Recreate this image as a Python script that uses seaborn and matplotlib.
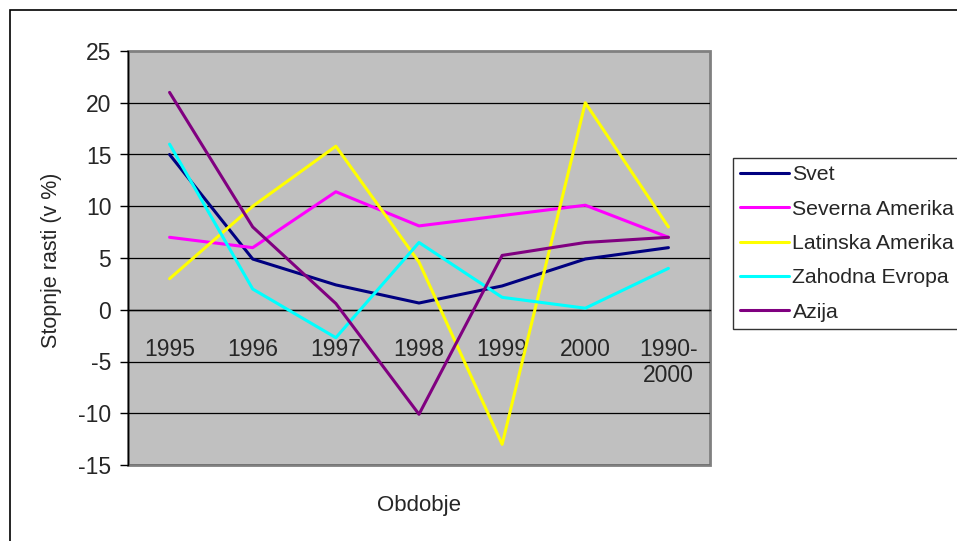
import numpy as np
import pandas as pd
import matplotlib
matplotlib.use('Agg')
import matplotlib.pyplot as plt
import seaborn as sns
from matplotlib.patches import Rectangle

# --- podatki ---
obdobja = ['1995', '1996', '1997', '1998', '1999', '2000', '1990-\n2000']
svet = [15.0, 4.9, 2.4, 0.65, 2.3, 4.9, 6.0]
severna_amerika = [7.0, 6.0, 11.4, 8.1, 9.1, 10.1, 7.0]
latinska_amerika = [3.0, 10.0, 15.8, 4.6, -13.0, 20.0, 8.0]
zahodna_evropa = [16.0, 2.0, -2.7, 6.5, 1.2, 0.15, 4.0]
azija = [21.0, 8.0, 0.6, -10.1, 5.25, 6.5, 7.0]

serije = ['Svet', 'Severna Amerika', 'Latinska Amerika', 'Zahodna Evropa', 'Azija']
barve = ['#000080', '#ff00ff', '#ffff00', '#00ffff', '#800080']

df = pd.DataFrame({'Obdobje': obdobja, 'Svet': svet, 'Severna Amerika': severna_amerika,
                   'Latinska Amerika': latinska_amerika, 'Zahodna Evropa': zahodna_evropa,
                   'Azija': azija})
df['x'] = np.arange(len(obdobja))
dolgi = df.melt(id_vars=['Obdobje', 'x'], value_vars=serije, var_name='Regija', value_name='Rast')

sns.set_style('white')
plt.rcParams['font.family'] = ['Liberation Sans', 'DejaVu Sans']
plt.rcParams['axes.unicode_minus'] = False

fig = plt.figure(figsize=(9.57, 5.41), dpi=100)
ax = fig.add_axes([128 / 957, 1 - 465 / 541, (710 - 128) / 957, (465 - 51) / 541])

sns.lineplot(data=dolgi, x='x', y='Rast', hue='Regija', hue_order=serije,
             palette=barve, linewidth=2.2, ax=ax, legend=False, zorder=3)

ax.set_facecolor('#c0c0c0')
ax.patch.set_edgecolor('#808080')
ax.patch.set_linewidth(2)

ax.set_xlim(-0.5, len(obdobja) - 0.5)
ax.set_ylim(-15, 25)
ax.set_yticks(np.arange(-15, 26, 5))
for v in np.arange(-15, 21, 5):
    ax.axhline(v, color='black', linewidth=0.9, zorder=1)

for s in ['top', 'right']:
    ax.spines[s].set_visible(False)
ax.spines['left'].set_color('black')
ax.spines['left'].set_linewidth(1)
ax.spines['bottom'].set_position(('data', 0))
ax.spines['bottom'].set_color('black')
ax.spines['bottom'].set_linewidth(1)

ax.set_xticks(df['x'])
ax.set_xticklabels(obdobja, fontsize=16.5)
ax.set_xticks(np.arange(-0.5, len(obdobja), 1), minor=True)
ax.tick_params(axis='x', which='major', length=0, pad=20)
ax.tick_params(axis='x', which='minor', length=6, width=1, color='black', direction='out')
ax.tick_params(axis='y', length=6, width=1, color='black', direction='out', labelsize=16.5, pad=6, left=True)

ax.set_xlabel('')
ax.set_ylabel('')
fig.text(52 / 957, 1 - 260 / 541, 'Stopnje rasti (v %)', fontsize=15.5, rotation=90,
         ha='center', va='center')
fig.text(419 / 957, 1 - 505 / 541, 'Obdobje', fontsize=16, ha='center', va='center')

# legenda
rocice = [plt.Line2D([0], [0], color=c, linewidth=2.2) for c in barve]
leg = fig.legend(rocice, serije, loc='upper left', bbox_to_anchor=(733 / 957, 1 - 158 / 541),
                 fontsize=15.3, frameon=True, fancybox=False, handlelength=2.3,
                 handletextpad=0.15, labelspacing=0.72, borderpad=0.35, borderaxespad=0)
leg.get_frame().set_edgecolor('black')
leg.get_frame().set_linewidth(1)

# okvir grafa
fig.patches.append(Rectangle((10 / 957, -0.1), 1.1, 1 - 10 / 541 + 0.1, transform=fig.transFigure,
                             fill=False, edgecolor='black', linewidth=1.2))

fig.savefig('out.png', dpi=100)
